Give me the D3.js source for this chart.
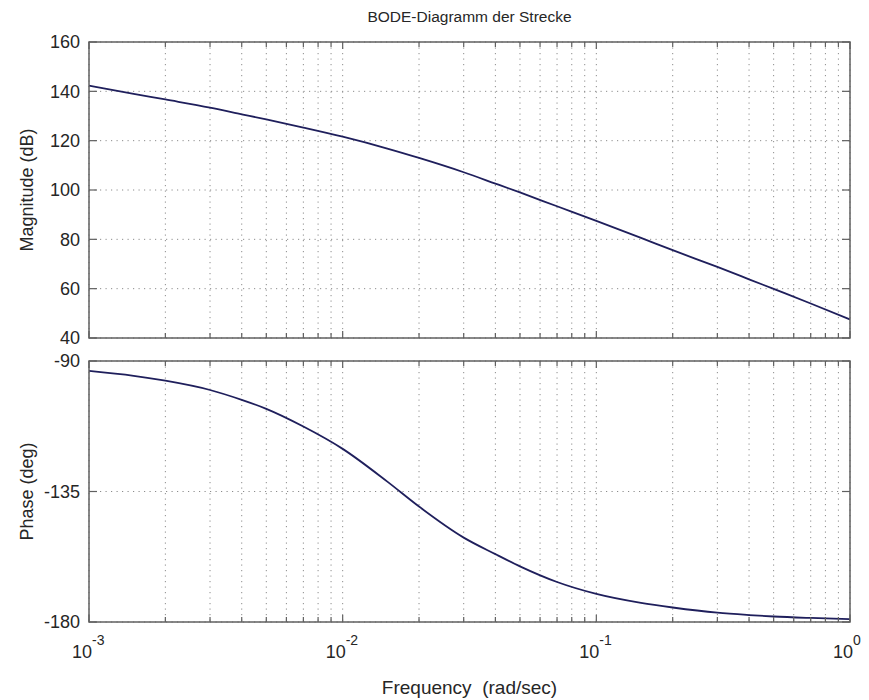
<!DOCTYPE html>
<html>
<head>
<meta charset="utf-8">
<script src="https://cdn.jsdelivr.net/npm/d3@7"></script>
<style>
  body { margin: 0; background: #fff; }
  svg { display: block; font-family: "Liberation Sans", Arial, sans-serif; }
</style>
</head>
<body>
<svg width="869" height="700"></svg>
<script>
// frequencies (rad/sec) and the values
var freq = [0.001, 0.0015, 0.002, 0.003, 0.004, 0.005, 0.007, 0.01, 0.015, 0.02, 0.03,
            0.04, 0.05, 0.07, 0.1, 0.15, 0.2, 0.3, 0.4, 0.5, 0.7, 1.0];
var magnitude = [142.3, 139.0, 136.7, 133.4, 130.7, 128.6, 125.3, 121.6, 116.8, 113.0, 107.2,
                 102.6, 99.0, 93.4, 87.5, 80.6, 75.6, 68.8, 63.8, 59.9, 54.0, 47.5];
var phase = [-93.4, -95.1, -96.8, -100.0, -103.4, -106.5, -112.6, -120.3, -131.6, -140.2, -150.9,
             -156.6, -160.8, -166.2, -170.3, -173.4, -175.0, -176.8, -177.6, -178.1, -178.6, -179.0];

var magTicks = [40, 60, 80, 100, 120, 140, 160];
var phaseTicks = [-180, -135, -90];
var decadeExps = [-3, -2, -1, 0];

var svg = d3.select("svg");

var left = 89, right = 850;
var magPanel = {top: 42, bottom: 338};
var phasePanel = {top: 361, bottom: 622};

var x = d3.scaleLog()
    .domain([1e-3, 1])
    .range([left, right]);

var yMag = d3.scaleLinear()
    .domain([40, 160])
    .range([magPanel.bottom, magPanel.top]);

var yPhase = d3.scaleLinear()
    .domain([-180, -90])
    .range([phasePanel.bottom, phasePanel.top]);

// all log ticks: 1..9 in each decade
var majorX = decadeExps.map(function(e) { return Math.pow(10, e); });
var minorX = [];
decadeExps.slice(0, 3).forEach(function(e) {
  for (var k = 2; k <= 9; k++) minorX.push(k * Math.pow(10, e));
});
var allX = majorX.concat(minorX);

var boxColor = "#606060",
    gridColor = "#8c8c8c",
    lineColor = "#1f1f5c",
    textColor = "#262626";

function panel(y, yTicks, values, top, bottom) {
  var g = svg.append("g");

  // dotted grid
  g.selectAll(".vgrid").data(allX).enter().append("line")
      .attr("x1", function(d) { return x(d); })
      .attr("x2", function(d) { return x(d); })
      .attr("y1", top)
      .attr("y2", bottom)
      .attr("stroke", gridColor)
      .attr("stroke-width", 1)
      .attr("stroke-dasharray", "1.2,4.3");

  g.selectAll(".hgrid").data(yTicks).enter().append("line")
      .attr("x1", left)
      .attr("x2", right)
      .attr("y1", function(d) { return y(d); })
      .attr("y2", function(d) { return y(d); })
      .attr("stroke", gridColor)
      .attr("stroke-width", 1)
      .attr("stroke-dasharray", "1.2,4.3");

  // the curve
  var line = d3.line()
      .x(function(d, i) { return x(freq[i]); })
      .y(function(d) { return y(d); })
      .curve(d3.curveMonotoneX);

  g.append("path")
      .datum(values)
      .attr("fill", "none")
      .attr("stroke", lineColor)
      .attr("stroke-width", 1.8)
      .attr("d", line);

  // box
  g.append("rect")
      .attr("x", left)
      .attr("y", top)
      .attr("width", right - left)
      .attr("height", bottom - top)
      .attr("fill", "none")
      .attr("stroke", boxColor)
      .attr("stroke-width", 1.5);

  // inward ticks on all four sides
  allX.forEach(function(d) {
    var len = majorX.indexOf(d) >= 0 ? 7 : 5;
    g.append("line").attr("x1", x(d)).attr("x2", x(d))
        .attr("y1", bottom).attr("y2", bottom - len)
        .attr("stroke", boxColor).attr("stroke-width", 1.2);
    g.append("line").attr("x1", x(d)).attr("x2", x(d))
        .attr("y1", top).attr("y2", top + len)
        .attr("stroke", boxColor).attr("stroke-width", 1.2);
  });
  yTicks.forEach(function(d) {
    g.append("line").attr("x1", left).attr("x2", left + 8)
        .attr("y1", y(d)).attr("y2", y(d))
        .attr("stroke", boxColor).attr("stroke-width", 1.2);
    g.append("line").attr("x1", right).attr("x2", right - 8)
        .attr("y1", y(d)).attr("y2", y(d))
        .attr("stroke", boxColor).attr("stroke-width", 1.2);
  });

  g.selectAll(".ylab").data(yTicks).enter().append("text")
      .attr("x", left - 9)
      .attr("y", function(d) { return y(d); })
      .attr("dy", "0.36em")
      .attr("text-anchor", "end")
      .attr("fill", textColor)
      .style("font-size", "18px")
      .text(function(d) { return d; });

  return g;
}

panel(yMag, magTicks, magnitude, magPanel.top, magPanel.bottom);
panel(yPhase, phaseTicks, phase, phasePanel.top, phasePanel.bottom);

// decade labels 10^n under the phase panel
var xl = svg.append("g");
decadeExps.forEach(function(e) {
  var px = x(Math.pow(10, e));
  xl.append("text")
      .attr("x", px + 3)
      .attr("y", 658)
      .attr("text-anchor", "end")
      .attr("fill", textColor)
      .style("font-size", "18px")
      .text("10");
  xl.append("text")
      .attr("x", px + 3)
      .attr("y", 645)
      .attr("fill", textColor)
      .style("font-size", "14px")
      .text(e);
});

// titles and axis labels
svg.append("text")
    .attr("x", (left + right) / 2)
    .attr("y", 22)
    .attr("text-anchor", "middle")
    .attr("fill", textColor)
    .style("font-size", "15.5px")
    .text("BODE-Diagramm der Strecke");

svg.append("text")
    .attr("x", (left + right) / 2)
    .attr("y", 694)
    .attr("text-anchor", "middle")
    .attr("fill", textColor)
    .style("font-size", "19px")
    .style("white-space", "pre")
    .text("Frequency  (rad/sec)");

svg.append("text")
    .attr("transform", "translate(33," + (magPanel.top + magPanel.bottom) / 2 + ") rotate(-90)")
    .attr("text-anchor", "middle")
    .attr("fill", textColor)
    .style("font-size", "18px")
    .text("Magnitude (dB)");

svg.append("text")
    .attr("transform", "translate(33," + (phasePanel.top + phasePanel.bottom) / 2 + ") rotate(-90)")
    .attr("text-anchor", "middle")
    .attr("fill", textColor)
    .style("font-size", "18px")
    .text("Phase (deg)");
</script>
</body>
</html>
